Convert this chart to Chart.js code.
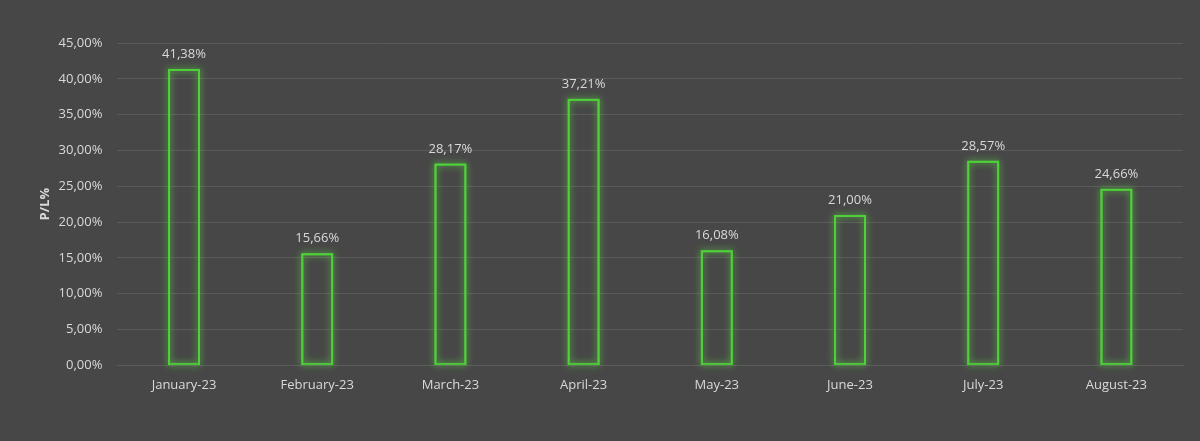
<!DOCTYPE html>
<html lang="en">
<head>
    <meta charset="UTF-8">
    <title>P/L% by Month</title>
    <style>
        html, body {
            margin: 0;
            padding: 0;
            background-color: #474747;
        }
        .chart-container {
            width: 1200px;
            height: 441px;
        }
    </style>
</head>
<body>
    <div class="chart-container">
        <canvas id="plChart"></canvas>
    </div>

    <script src="https://cdn.jsdelivr.net/npm/chart.js"></script>
    <script>
        const months = ['January-23', 'February-23', 'March-23', 'April-23', 'May-23', 'June-23', 'July-23', 'August-23'];
        const plValues = [41.38, 15.66, 28.17, 37.21, 16.08, 21.00, 28.57, 24.66];
        const yTicks = [0, 5, 10, 15, 20, 25, 30, 35, 40, 45];

        const fmt = v => v.toFixed(2).replace('.', ',') + '%';

        // soft glow round the bar outlines, drawn under the bars
        const glowPlugin = {
            id: 'glow',
            beforeDatasetsDraw(chart) {
                const ctx = chart.ctx;
                const meta = chart.getDatasetMeta(0);
                ctx.save();
                ctx.strokeStyle = 'rgba(80, 210, 60, 0.9)';
                ctx.lineWidth = 2;
                ctx.shadowColor = 'rgba(100, 240, 70, 1)';
                ctx.shadowBlur = 7;
                meta.data.forEach(bar => {
                    const p = bar.getProps(['x', 'y', 'base', 'width'], true);
                    const left = p.x - p.width / 2 + 1;
                    ctx.strokeRect(left, p.y + 1, p.width - 2, p.base - p.y - 2);
                });
                ctx.restore();
            }
        };

        // value labels above each bar
        const labelPlugin = {
            id: 'barLabels',
            afterDatasetsDraw(chart) {
                const ctx = chart.ctx;
                const meta = chart.getDatasetMeta(0);
                ctx.save();
                ctx.fillStyle = '#d9d9d9';
                ctx.font = '13px "Open Sans", sans-serif';
                ctx.textAlign = 'center';
                ctx.textBaseline = 'bottom';
                meta.data.forEach((bar, i) => {
                    ctx.fillText(fmt(plValues[i]), bar.x, bar.y - 8);
                });
                ctx.restore();
            }
        };

        const ctx = document.getElementById('plChart').getContext('2d');
        new Chart(ctx, {
            type: 'bar',
            data: {
                labels: months,
                datasets: [{
                    label: 'P/L%',
                    data: plValues,
                    backgroundColor: 'rgba(0, 0, 0, 0)',
                    borderColor: '#4fcf3a',
                    borderWidth: 2,
                    barPercentage: 0.24,
                    categoryPercentage: 1
                }]
            },
            options: {
                responsive: true,
                maintainAspectRatio: false,
                animation: false,
                layout: {
                    padding: { left: 37, right: 17, top: 43, bottom: 44 }
                },
                plugins: {
                    legend: { display: false },
                    tooltip: { enabled: false }
                },
                scales: {
                    x: {
                        grid: { display: false },
                        border: { color: '#5c5c5c' },
                        ticks: {
                            color: '#d9d9d9',
                            font: { family: '"Open Sans", sans-serif', size: 13 },
                            padding: 4
                        }
                    },
                    y: {
                        min: 0,
                        max: 45,
                        afterBuildTicks(axis) {
                            axis.ticks = yTicks.map(v => ({ value: v }));
                        },
                        grid: { color: '#5a5a5a', lineWidth: 1, drawTicks: false },
                        border: { display: false },
                        ticks: {
                            color: '#d9d9d9',
                            font: { family: '"Open Sans", sans-serif', size: 13 },
                            padding: 15,
                            callback: v => fmt(v)
                        },
                        title: {
                            display: true,
                            text: 'P/L%',
                            color: '#d9d9d9',
                            font: { family: '"Open Sans", sans-serif', size: 13, weight: 'bold' },
                            padding: { top: 0, bottom: -9 }
                        }
                    }
                }
            },
            plugins: [glowPlugin, labelPlugin]
        });
    </script>
</body>
</html>
